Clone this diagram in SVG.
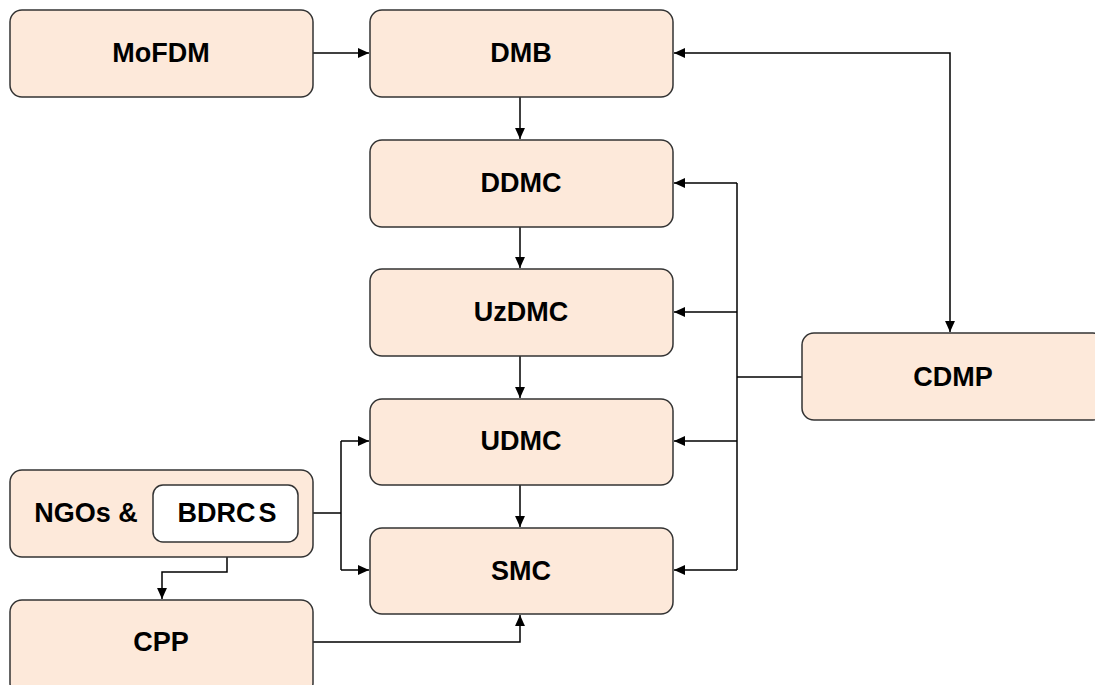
<svg xmlns="http://www.w3.org/2000/svg" width="1095" height="685" viewBox="0 0 1095 685">
<style>
.box{fill:#fde9da;stroke:#333;stroke-width:1.5}
.inner{fill:#fff;stroke:#333;stroke-width:1.5}
.t{font-family:"Liberation Sans",Arial,sans-serif;font-weight:bold;font-size:27px;fill:#000;text-anchor:middle;dominant-baseline:central}
.c{fill:none;stroke:#000;stroke-width:1.5}
</style>
<defs>
<marker id="a" viewBox="0 0 10 10" refX="10" refY="5" markerWidth="11" markerHeight="11" markerUnits="userSpaceOnUse" orient="auto-start-reverse">
<path d="M0,0.5 L10,5 L0,9.5 z" fill="#000"/>
</marker>
</defs>
<rect width="1095" height="685" fill="#fff"/>
<g id="connectors">
<path class="c" d="M313,53 H369" marker-end="url(#a)"/>
<path class="c" d="M520,97 V139" marker-end="url(#a)"/>
<path class="c" d="M520,227 V268" marker-end="url(#a)"/>
<path class="c" d="M520,356 V398" marker-end="url(#a)"/>
<path class="c" d="M520,485 V527" marker-end="url(#a)"/>
<path class="c" d="M674,53 H950 V332" marker-start="url(#a)" marker-end="url(#a)"/>
<path class="c" d="M802,377 H737"/>
<path class="c" d="M737,183 V570"/>
<path class="c" d="M737,183 H674" marker-end="url(#a)"/>
<path class="c" d="M737,312 H674" marker-end="url(#a)"/>
<path class="c" d="M737,441 H674" marker-end="url(#a)"/>
<path class="c" d="M737,570 H674" marker-end="url(#a)"/>
<path class="c" d="M313,513 H341"/>
<path class="c" d="M341,441 V570"/>
<path class="c" d="M341,441 H369" marker-end="url(#a)"/>
<path class="c" d="M341,570 H369" marker-end="url(#a)"/>
<path class="c" d="M227,542 V572 H162 V599" marker-end="url(#a)"/>
<path class="c" d="M313,642 H520 V615" marker-end="url(#a)"/>
</g>
<g id="MoFDM"><rect class="box" x="10" y="10" width="303" height="87" rx="12"/><text class="t" x="161" y="53">MoFDM</text></g>
<g id="DMB"><rect class="box" x="370" y="10" width="303" height="87" rx="12"/><text class="t" x="521" y="53">DMB</text></g>
<g id="DDMC"><rect class="box" x="370" y="140" width="303" height="87" rx="12"/><text class="t" x="521" y="183">DDMC</text></g>
<g id="UzDMC"><rect class="box" x="370" y="269" width="303" height="87" rx="12"/><text class="t" x="521" y="312">UzDMC</text></g>
<g id="UDMC"><rect class="box" x="370" y="399" width="303" height="86" rx="12"/><text class="t" x="521" y="441">UDMC</text></g>
<g id="SMC"><rect class="box" x="370" y="528" width="303" height="86" rx="12"/><text class="t" x="521" y="571">SMC</text></g>
<g id="CDMP"><rect class="box" x="802" y="333" width="303" height="87" rx="12"/><text class="t" x="953" y="377">CDMP</text></g>
<g id="NGOs"><rect class="box" x="10" y="470" width="303" height="87" rx="12"/><text class="t" x="86" y="513">NGOs &amp;</text></g>
<g id="BDRCS"><rect class="inner" x="153" y="485" width="145" height="57" rx="10"/><text class="t" x="227" y="513">BDRC<tspan dx="3">S</tspan></text></g>
<g id="CPP"><rect class="box" x="10" y="600" width="303" height="95" rx="12"/><text class="t" x="161" y="642">CPP</text></g>
</svg>
